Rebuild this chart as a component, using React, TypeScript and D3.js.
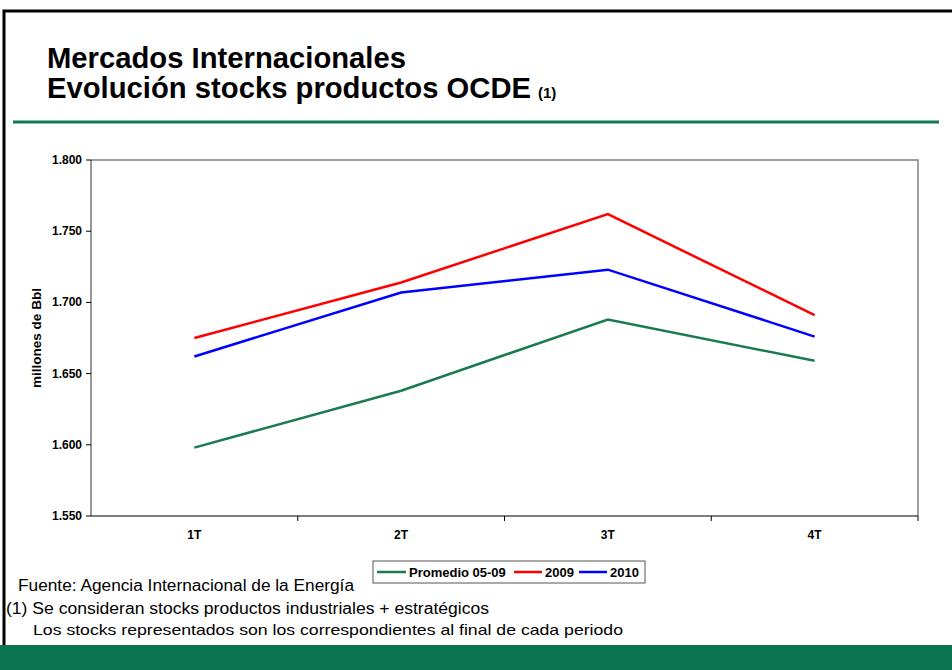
import React from "react";
import * as d3 from "d3";

const categories = ["1T", "2T", "3T", "4T"];
const seriesNames = ["Promedio 05-09", "2009", "2010"];
const promedio = [1.598, 1.638, 1.688, 1.659];
const y2009 = [1.675, 1.714, 1.762, 1.691];
const y2010 = [1.662, 1.707, 1.723, 1.676];
const yTicks = [1.55, 1.6, 1.65, 1.7, 1.75, 1.8];
const colors = ["#1a7a52", "#ff0000", "#0000ff"];

const W = 952, H = 670;
const left = 91, right = 918, top = 160, bottom = 516;

export default function App() {
  const x = d3.scaleBand<string>().domain(categories).range([left, right]);
  const y = d3.scaleLinear().domain([1.55, 1.8]).range([bottom, top]);
  const series = [promedio, y2009, y2010];
  const line = d3
    .line<number>()
    .x((_, i) => (x(categories[i]) as number) + x.bandwidth() / 2)
    .y((d) => y(d));
  const fmt = (v: number) => d3.format(".3f")(v);
  const font = "Liberation Sans, Arial, sans-serif";
  const bw = x.bandwidth();
  const legendItems = [
    { x: 377, lw: 29 },
    { x: 514, lw: 28 },
    { x: 579, lw: 28 },
  ];
  return (
    <svg width={W} height={H} style={{ position: "absolute", left: 0, top: 0 }} fontFamily={font}>
      <rect x={0} y={0} width={W} height={H} fill="#fff" />
      <path d={`M4,${H} V11 H${W}`} fill="none" stroke="#000" strokeWidth={3} />
      <text x={47} y={68} fontSize={29} fontWeight="bold" fill="#000" textLength={359} lengthAdjust="spacingAndGlyphs">Mercados Internacionales</text>
      <text x={47} y={98} fontSize={29} fontWeight="bold" fill="#000">
        <tspan textLength={484} lengthAdjust="spacingAndGlyphs">Evolución stocks productos OCDE</tspan>
        <tspan fontSize={15} dx={7}>(1)</tspan>
      </text>
      <line x1={13} x2={939} y1={122} y2={122} stroke="#107a52" strokeWidth={3} />
      <path d={`M${left},${top} H${right} V${bottom}`} fill="none" stroke="#808080" strokeWidth={1.5} />
      <line x1={left} x2={left} y1={top} y2={bottom} stroke="#333" strokeWidth={1} />
      <line x1={left} x2={right} y1={bottom} y2={bottom} stroke="#000" strokeWidth={1} />
      {yTicks.map((t) => (
        <g key={t}>
          <line x1={left - 5} x2={left} y1={y(t)} y2={y(t)} stroke="#000" />
          <text x={left - 9} y={y(t) + 4} textAnchor="end" fontSize={12} fontWeight="bold">
            {fmt(t)}
          </text>
        </g>
      ))}
      {categories.map((c) => (
        <g key={c}>
          <line x1={(x(c) as number) + bw} x2={(x(c) as number) + bw} y1={bottom} y2={bottom + 5} stroke="#000" />
          <text x={(x(c) as number) + bw / 2} y={bottom + 23} textAnchor="middle" fontSize={12} fontWeight="bold">
            {c}
          </text>
        </g>
      ))}
      <text
        transform={`translate(41,${(top + bottom) / 2}) rotate(-90)`}
        textAnchor="middle"
        fontSize={13.5}
        fontWeight="bold"
      >
        millones de Bbl
      </text>
      {series.map((s, i) => (
        <path key={i} d={line(s) as string} fill="none" stroke={colors[i]} strokeWidth={2.5} />
      ))}
      <rect x={373} y={561} width={272} height={22} fill="#fff" stroke="#555" strokeWidth={1} />
      {seriesNames.map((n, i) => (
        <g key={n}>
          <line x1={legendItems[i].x} x2={legendItems[i].x + legendItems[i].lw} y1={572} y2={572} stroke={colors[i]} strokeWidth={2.5} />
          <text x={legendItems[i].x + legendItems[i].lw + 3} y={577} fontSize={13} fontWeight="bold">{n}</text>
        </g>
      ))}
      <text x={18} y={591} fontSize={16} textLength={336} lengthAdjust="spacingAndGlyphs">Fuente: Agencia Internacional de la Energía</text>
      <text x={6} y={614} fontSize={16} textLength={483} lengthAdjust="spacingAndGlyphs">(1) Se consideran stocks productos industriales + estratégicos</text>
      <text x={33} y={635} fontSize={15} textLength={590} lengthAdjust="spacingAndGlyphs">Los stocks representados son los correspondientes al final de cada periodo</text>
      <rect x={0} y={645} width={W} height={25} fill="#0a7350" />
    </svg>
  );
}
